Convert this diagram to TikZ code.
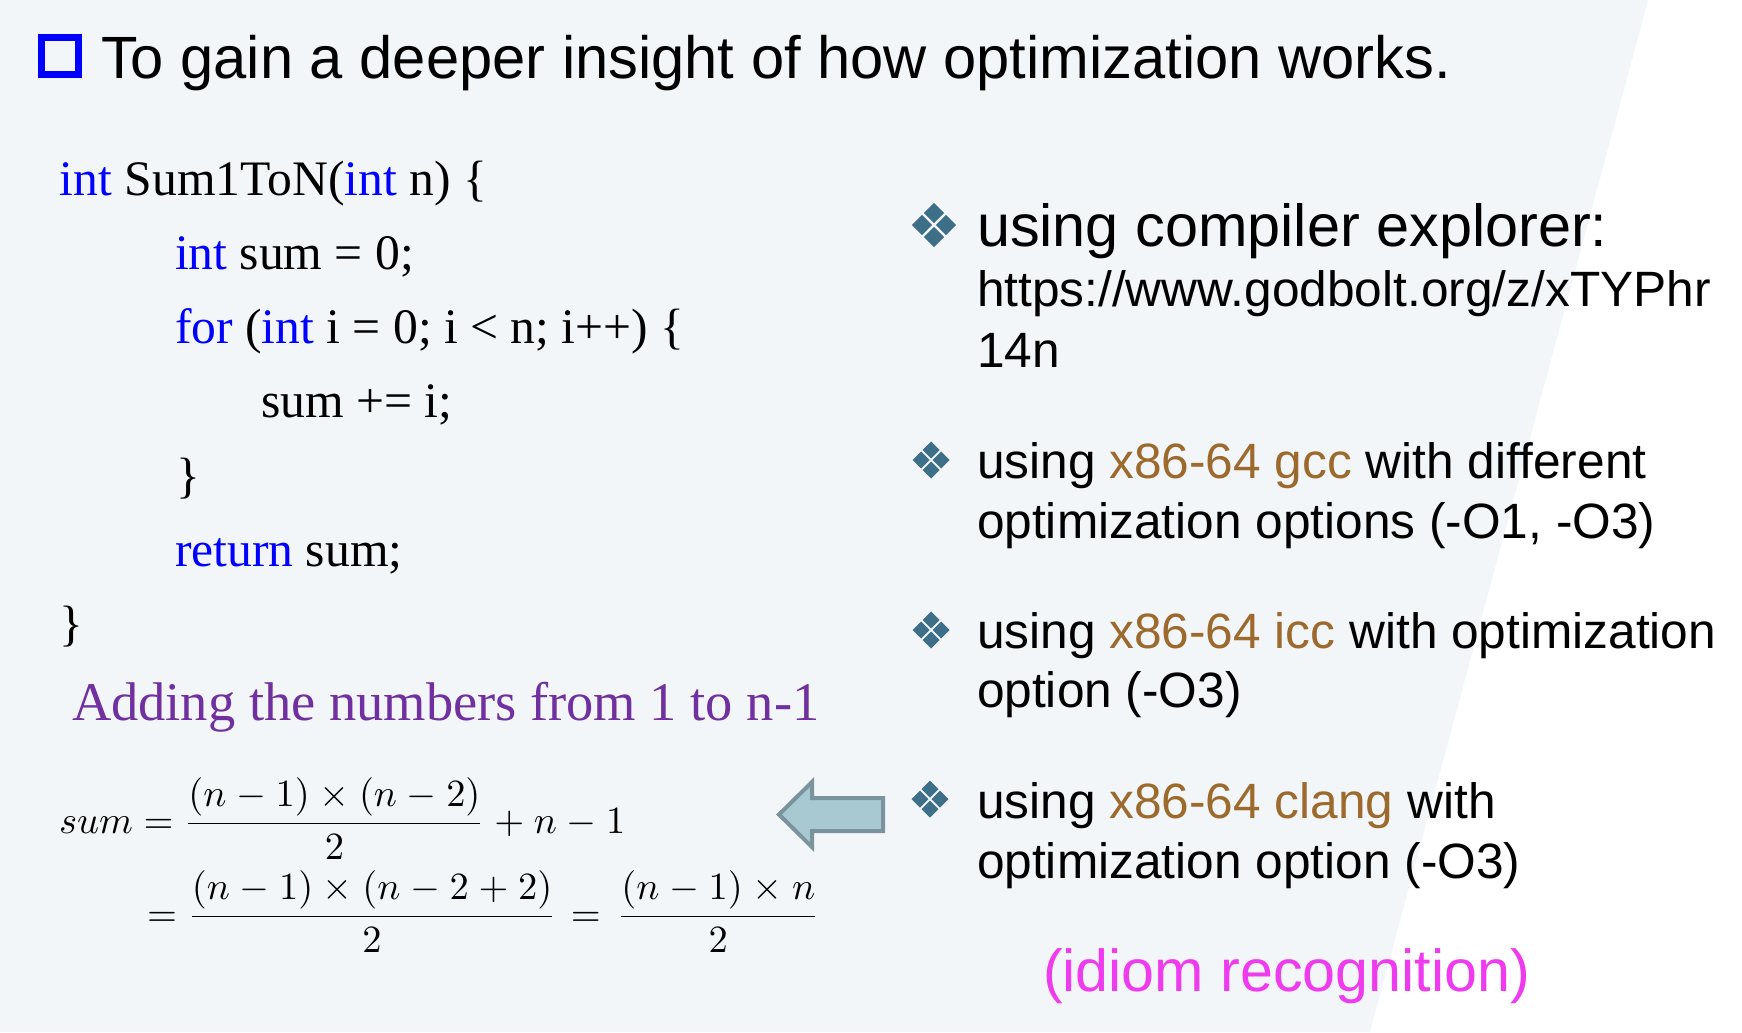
\documentclass[tikz,border=0pt]{standalone}
\usepackage{fontspec}
\setmainfont{Liberation Serif}
\newfontfamily\arialf{Liberation Sans}
\definecolor{bgc}{HTML}{F3F6F8}
\definecolor{kw}{HTML}{0000FF}
\definecolor{purp}{HTML}{7030A0}
\definecolor{gold}{HTML}{9C6A2C}
\definecolor{magen}{HTML}{EE3BEE}
\definecolor{bulcol}{HTML}{3E6F89}
\definecolor{arrfill}{HTML}{A8C9D2}
\definecolor{arrline}{HTML}{7A939C}
\begin{document}
\begin{tikzpicture}[x=0.1mm,y=-0.1mm,
  txt/.style={anchor=base west,inner sep=0pt,outer sep=0pt},
  title/.style={txt,font=\arialf\fontsize{16.98}{20}\selectfont},
  code/.style={txt,font=\fontsize{14.12}{17}\selectfont},
  bigb/.style={txt,font=\arialf\fontsize{16.9}{20}\selectfont},
  smb/.style={txt,font=\arialf\fontsize{14.12}{17}\selectfont},
  mth/.style={txt,font=\fontsize{10.5}{12}\selectfont},
  bulletdia/.pic={
    \foreach \a/\b in {0/-10,-10/0,10/0,0/10}
      \fill[bulcol] (\a,\b) ++(0,-8.5) -- ++(8.5,8.5) -- ++(-8.5,8.5) -- ++(-8.5,-8.5) -- cycle;
  }]
\useasboundingbox (0,0) rectangle (1742,1032);
\fill[white] (0,0) rectangle (1742,1032);
\fill[bgc] (0,0) -- (1648,0) -- (1370,1032) -- (0,1032) -- cycle;

% title
\draw[kw,line width=0.7mm] (41.5,37.5) rectangle (78.5,74.5);
\node[title] (title) at (101,78) {To gain a deeper insight of how optimization works.};

% code
\node[code] (c1) at (60,195) {\textcolor{kw}{int} Sum1ToN(\textcolor{kw}{int} n) \{};
\node[code] (c2) at (175,269) {\textcolor{kw}{int} sum = 0;};
\node[code] (c3) at (175,343) {\textcolor{kw}{for} (\textcolor{kw}{int} i = 0; i < n; i++) \{};
\node[code] (c4) at (261,417) {sum += i;};
\node[code] (c5) at (176,492) {\}};
\node[code] (c6) at (175,566) {\textcolor{kw}{return} sum;};
\node[code] (c7) at (60,640) {\}};

\node[txt,font=\fontsize{15.5}{18}\selectfont,text=purp] (adding) at (72,720) {Adding the numbers from 1 to n-1};

% math
\node[mth] (m1) at (59,833) {$\medmuskip=4.5mu\displaystyle sum = \frac{(n-1)\times(n-2)}{2}+n-1$};
\node[mth] (m2) at (147,926) {$\medmuskip=4.5mu\displaystyle = \frac{(n-1)\times(n-2+2)}{2} \mskip1.7mu=\mskip2.7mu \frac{(n-1)\times n}{2}$};

% arrow
\draw[arrline,fill=arrfill,line width=0.4mm,line join=miter]
  (883,798) -- (812,798) -- (812,782) -- (779,814.5) -- (812,847) -- (812,831) -- (883,831) -- cycle;

% bullets
\pic[scale=1.2] at (934,225) {bulletdia};
\node[bigb] (b1a) at (977,246) {using compiler explorer:};
\node[smb] (b1b) at (977,306) {https://www.godbolt.org/z/xTYPhr};
\node[smb] (b1c) at (977,367) {14n};

\pic at (931,460) {bulletdia};
\node[smb] (b2a) at (977,478) {using \textcolor{gold}{x86-64 gcc} with different};
\node[smb] (b2b) at (977,538) {optimization options (-O1, -O3)};

\pic at (931,630) {bulletdia};
\node[smb] (b3a) at (977,648) {using \textcolor{gold}{x86-64 icc} with optimization};
\node[smb] (b3b) at (977,707) {option (-O3)};

\pic at (930,799) {bulletdia};
\node[smb] (b4a) at (977,818) {using \textcolor{gold}{x86-64 clang} with};
\node[smb] (b4b) at (977,878) {optimization option (-O3)};

\node[txt,font=\arialf\fontsize{16.85}{20}\selectfont,text=magen] (idiom) at (1043,991) {(idiom recognition)};
\end{tikzpicture}
\end{document}
